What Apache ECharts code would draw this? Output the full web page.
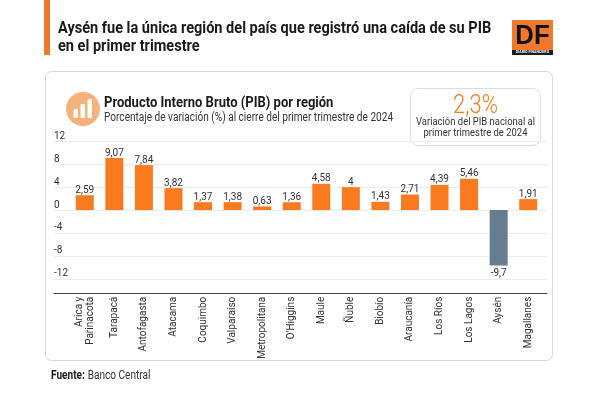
<!DOCTYPE html>
<html>
<head>
<meta charset="utf-8">
<style>
html,body{margin:0;padding:0;background:#fff}
#chart{width:600px;height:394px}
</style>
<script src="https://cdn.jsdelivr.net/npm/echarts@6/dist/echarts.min.js"></script>
</head>
<body>
<div id="chart"></div>
<script>
const regions = ['Arica y\nParinacota','Tarapacá','Antofagasta','Atacama','Coquimbo','Valparaíso','Metropolitana',"O'Higgins",'Maule','Ñuble','Biobío','Araucanía','Los Ríos','Los Lagos','Aysén','Magallanes'];
const variation = [2.59,9.07,7.84,3.82,1.37,1.38,0.63,1.36,4.58,4,1.43,2.71,4.39,5.46,-9.7,1.91];

const FONT = 'Roboto,sans-serif';
const ORANGE = '#F97A1F';
const SLATE = '#667C90';
const INK = '#2b2b2b';

// the original face is condensed, so header texts get squeezed with scaleX
function txt(x, y, text, size, weight, color, align, squeeze) {
    return {type:'text', x:x, y:y, scaleX:squeeze||1, silent:true, style:{text:text, fontFamily:FONT, fontSize:size, fontWeight:weight||'normal', fill:color||INK, align:align||'left', verticalAlign:'middle'}};
}

const chart = echarts.init(document.getElementById('chart'), null, {renderer:'canvas'});

chart.setOption({
    animation:false,
    backgroundColor:'#fff',
    graphic:{elements:[
        {type:'rect', z:-10, shape:{x:45.5,y:71.5,width:507,height:289,r:6}, style:{fill:'#fff',stroke:'#d9d9d9',lineWidth:1}},
        {type:'rect', shape:{x:44,y:0,width:6,height:55}, style:{fill:'#F0782A'}},
        txt(58,29,'Aysén fue la única región del país que registró una caída de su PIB',17,'bold','#1a1a1a','left',0.855),
        txt(58,47,'en el primer trimestre',17,'bold','#1a1a1a','left',0.855),
        // logo
        {type:'rect', shape:{x:512,y:20,width:41,height:35}, style:{fill:'#F0782A'}},
        {type:'rect', shape:{x:512,y:50,width:41,height:5}, style:{fill:'#1a1a1a'}},
        {type:'text', x:532.5, y:36, scaleX:0.92, silent:true, style:{text:'DF', fontFamily:'"Liberation Sans",sans-serif', fontSize:28, fontWeight:'bold', fill:'#111', align:'center', verticalAlign:'middle'}},
        txt(532.5,52.5,'DIARIO FINANCIERO',3.6,'bold','#fff','center'),
        // icon
        {type:'circle', shape:{cx:83,cy:109,r:17}, style:{fill:'#F6B27C'}},
        {type:'rect', shape:{x:73.5,y:109,width:4.5,height:9,r:1.5}, style:{fill:'#fff'}},
        {type:'rect', shape:{x:80.5,y:104,width:4.5,height:14,r:1.5}, style:{fill:'#fff'}},
        {type:'rect', shape:{x:87.5,y:99,width:4.5,height:19,r:1.5}, style:{fill:'#fff'}},
        txt(104,103,'Producto Interno Bruto (PIB) por región',15,'bold','#1a1a1a','left',0.867),
        txt(104,118,'Porcentaje de variación (%) al cierre del primer trimestre de 2024',12,'normal','#333','left',0.84),
        // national box
        {type:'rect', shape:{x:410.5,y:88.5,width:130,height:57,r:8}, style:{fill:'#fff',stroke:'#dcdcdc',lineWidth:1}},
        txt(475.5,107,'2,3%',25,300,ORANGE,'center',0.88),
        txt(475.5,122.5,'Variación del PIB nacional al',10.5,'normal','#333','center',0.9),
        txt(475.5,133.5,'primer trimestre de 2024',10.5,'normal','#333','center',0.9),
        {type:'text', x:51, y:375.5, scaleX:0.84, silent:true, style:{rich:{b:{fontFamily:FONT,fontSize:12,fontWeight:'bold',fill:'#1a1a1a'},n:{fontFamily:FONT,fontSize:12,fill:'#333'}}, text:'{b|Fuente:} {n|Banco Central}', verticalAlign:'middle'}}
    ]},
    grid:[
        {left:54, width:493, top:141.3, height:160.4},
        {left:70, width:473, top:141.3, height:160.4}
    ],
    xAxis:[
        {gridIndex:0, type:'category', data:regions, offset:-8, axisLine:{onZero:false,lineStyle:{color:'#444',width:1.2}}, axisTick:{show:false}, axisLabel:{show:false}},
        {gridIndex:1, type:'category', data:regions, offset:-8, axisLine:{show:false}, axisTick:{show:false},
            axisLabel:{interval:0, rotate:90, margin:3, fontFamily:FONT, fontSize:10, color:'#333', lineHeight:11.5, align:'right', verticalAlign:'middle'}}
    ],
    yAxis:[
        {gridIndex:0, type:'value', min:-16, max:12, interval:4, axisLine:{show:false}, axisTick:{show:false},
            splitLine:{showMinLine:false, lineStyle:{color:'#ececec',width:1}},
            axisLabel:{showMinLabel:false, inside:true, margin:0, verticalAlign:'bottom', lineHeight:10, fontFamily:FONT, fontSize:10, color:'#333'}},
        {gridIndex:1, type:'value', min:-16, max:12, interval:4, show:false}
    ],
    series:[{
        type:'bar',
        xAxisIndex:1,
        yAxisIndex:1,
        barWidth:18,
        data:variation.map(v => ({value:v, itemStyle:{color:v<0?SLATE:ORANGE}, label:{distance:v<0?3:0}})),
        label:{show:true, position:'outside', fontFamily:FONT, fontSize:10, color:'#333',
            formatter:p => String(p.value).replace('.',',')}
    }]
});
</script>
</body>
</html>
